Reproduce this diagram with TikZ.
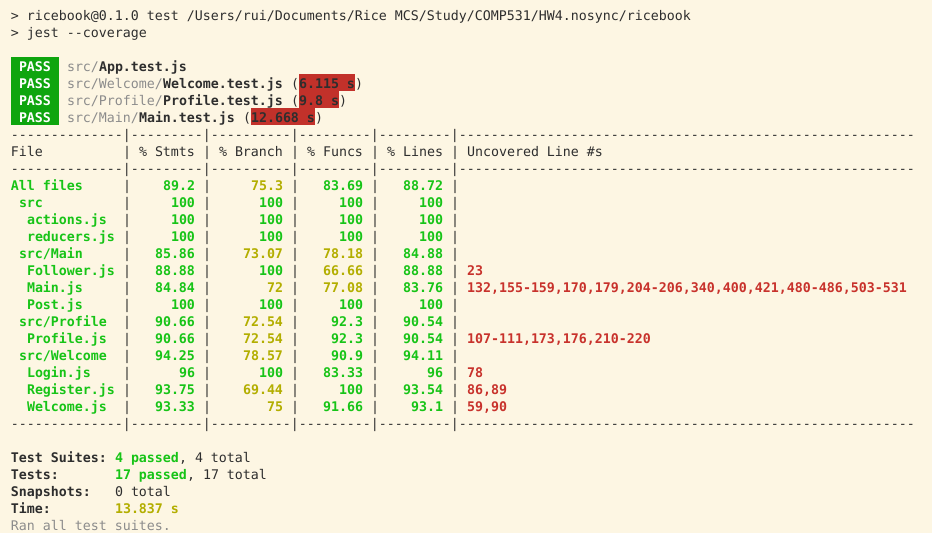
\documentclass[tikz,border=0pt]{standalone}
\usepackage{fontspec}
\setmonofont{DejaVu Sans Mono}

\definecolor{bg}{HTML}{FDF6E3}
\definecolor{fg}{HTML}{2E2E2E}
\definecolor{dim}{HTML}{8C8C8C}
\definecolor{grn}{HTML}{17C417}
\definecolor{passgrn}{HTML}{0EA50E}
\definecolor{ylw}{HTML}{B3AE00}
\definecolor{red}{HTML}{C8322C}
\definecolor{hlred}{HTML}{C2312A}

\newcommand\termfont{\ttfamily\fontsize{9.966}{17}\selectfont}

\tikzset{
	term/.style={inner sep=0pt, outer sep=0pt, anchor=base west, text=fg, font=\termfont},
	bld/.style={font=\termfont\bfseries}
}

% row #1, column #2: text starts (putl) or ends (putr) there
\newcommand\putl[4]{\node[term, #3] (l#1c#2) at ({11+8*#2},{20+17*#1}) {#4};}
\newcommand\putr[4]{\node[term, anchor=base east, #3] (l#1e#2) at ({11+8*#2},{20+17*#1}) {#4};}

\begin{document}
\begin{tikzpicture}[x=0.75pt, y=-0.75pt]

	\fill[bg] (0,0) rectangle (932,533);
	\useasboundingbox (0,0) rectangle (932,533);

	% command lines
	\putl{0}{0}{}{> ricebook@0.1.0 test /Users/rui/Documents/Rice MCS/Study/COMP531/HW4.nosync/ricebook}
	\putl{1}{0}{}{> jest --coverage}

	% test results
	\fill[passgrn] (11,57) rectangle (59,125);
	\fill[hlred] (299,74) rectangle (355,91);
	\fill[hlred] (299,91) rectangle (339,108);
	\fill[hlred] (251,108) rectangle (315,125);
	\foreach \r in {3,...,6}
		\putl{\r}{1}{bld, text=white}{PASS};

	\putl{3}{7}{text=dim}{src/}
	\putl{3}{11}{bld}{App.test.js}

	\putl{4}{7}{text=dim}{src/Welcome/}
	\putl{4}{19}{bld}{Welcome.test.js}
	\putl{4}{35}{}{(}
	\putl{4}{36}{bld}{6.115 s}
	\putl{4}{43}{}{)}

	\putl{5}{7}{text=dim}{src/Profile/}
	\putl{5}{19}{bld}{Profile.test.js}
	\putl{5}{35}{}{(}
	\putl{5}{36}{bld}{9.8 s}
	\putl{5}{41}{}{)}

	\putl{6}{7}{text=dim}{src/Main/}
	\putl{6}{16}{bld}{Main.test.js}
	\putl{6}{29}{}{(}
	\putl{6}{30}{bld}{12.668 s}
	\putl{6}{38}{}{)}

	% coverage table
	\foreach \r in {7,9,24}
		\putl{\r}{0}{}{--------------|---------|----------|---------|---------|---------------------------------------------------------};

	\putl{8}{0}{}{File}
	\putl{8}{16}{}{\% Stmts}
	\putl{8}{26}{}{\% Branch}
	\putl{8}{37}{}{\% Funcs}
	\putl{8}{47}{}{\% Lines}
	\putl{8}{57}{}{Uncovered Line \#s}

	\foreach \r in {8,10,11,...,23}
		\foreach \c in {14,24,35,45,55}
			\putl{\r}{\c}{}{|};

	\foreach \r/\c/\n in {10/0/All files, 11/1/src, 12/2/actions.js, 13/2/reducers.js,
		14/1/{src/Main}, 15/2/Follower.js, 16/2/Main.js, 17/2/Post.js,
		18/1/{src/Profile}, 19/2/Profile.js, 20/1/{src/Welcome}, 21/2/Login.js,
		22/2/Register.js, 23/2/Welcome.js}
		\putl{\r}{\c}{bld, text=grn}{\n};

	\foreach \r/\s/\sc/\b/\bc/\f/\fc/\l/\lc in {
		10/89.2/grn/75.3/ylw/83.69/grn/88.72/grn,
		11/100/grn/100/grn/100/grn/100/grn,
		12/100/grn/100/grn/100/grn/100/grn,
		13/100/grn/100/grn/100/grn/100/grn,
		14/85.86/grn/73.07/ylw/78.18/ylw/84.88/grn,
		15/88.88/grn/100/grn/66.66/ylw/88.88/grn,
		16/84.84/grn/72/ylw/77.08/ylw/83.76/grn,
		17/100/grn/100/grn/100/grn/100/grn,
		18/90.66/grn/72.54/ylw/92.3/grn/90.54/grn,
		19/90.66/grn/72.54/ylw/92.3/grn/90.54/grn,
		20/94.25/grn/78.57/ylw/90.9/grn/94.11/grn,
		21/96/grn/100/grn/83.33/grn/96/grn,
		22/93.75/grn/69.44/ylw/100/grn/93.54/grn,
		23/93.33/grn/75/ylw/91.66/grn/93.1/grn}
	{
		\putr{\r}{23}{bld, text=\sc}{\s}
		\putr{\r}{34}{bld, text=\bc}{\b}
		\putr{\r}{44}{bld, text=\fc}{\f}
		\putr{\r}{54}{bld, text=\lc}{\l}
	}

	\putl{15}{57}{bld, text=red}{23}
	\putl{16}{57}{bld, text=red}{132,155-159,170,179,204-206,340,400,421,480-486,503-531}
	\putl{19}{57}{bld, text=red}{107-111,173,176,210-220}
	\putl{21}{57}{bld, text=red}{78}
	\putl{22}{57}{bld, text=red}{86,89}
	\putl{23}{57}{bld, text=red}{59,90}

	% summary
	\putl{26}{0}{bld}{Test Suites:}
	\putl{26}{13}{bld, text=grn}{4 passed}
	\putl{26}{21}{}{, 4 total}
	\putl{27}{0}{bld}{Tests:}
	\putl{27}{13}{bld, text=grn}{17 passed}
	\putl{27}{22}{}{, 17 total}
	\putl{28}{0}{bld}{Snapshots:}
	\putl{28}{13}{}{0 total}
	\putl{29}{0}{bld}{Time:}
	\putl{29}{13}{bld, text=ylw}{13.837 s}
	\putl{30}{0}{text=dim}{Ran all test suites.}

\end{tikzpicture}
\end{document}
